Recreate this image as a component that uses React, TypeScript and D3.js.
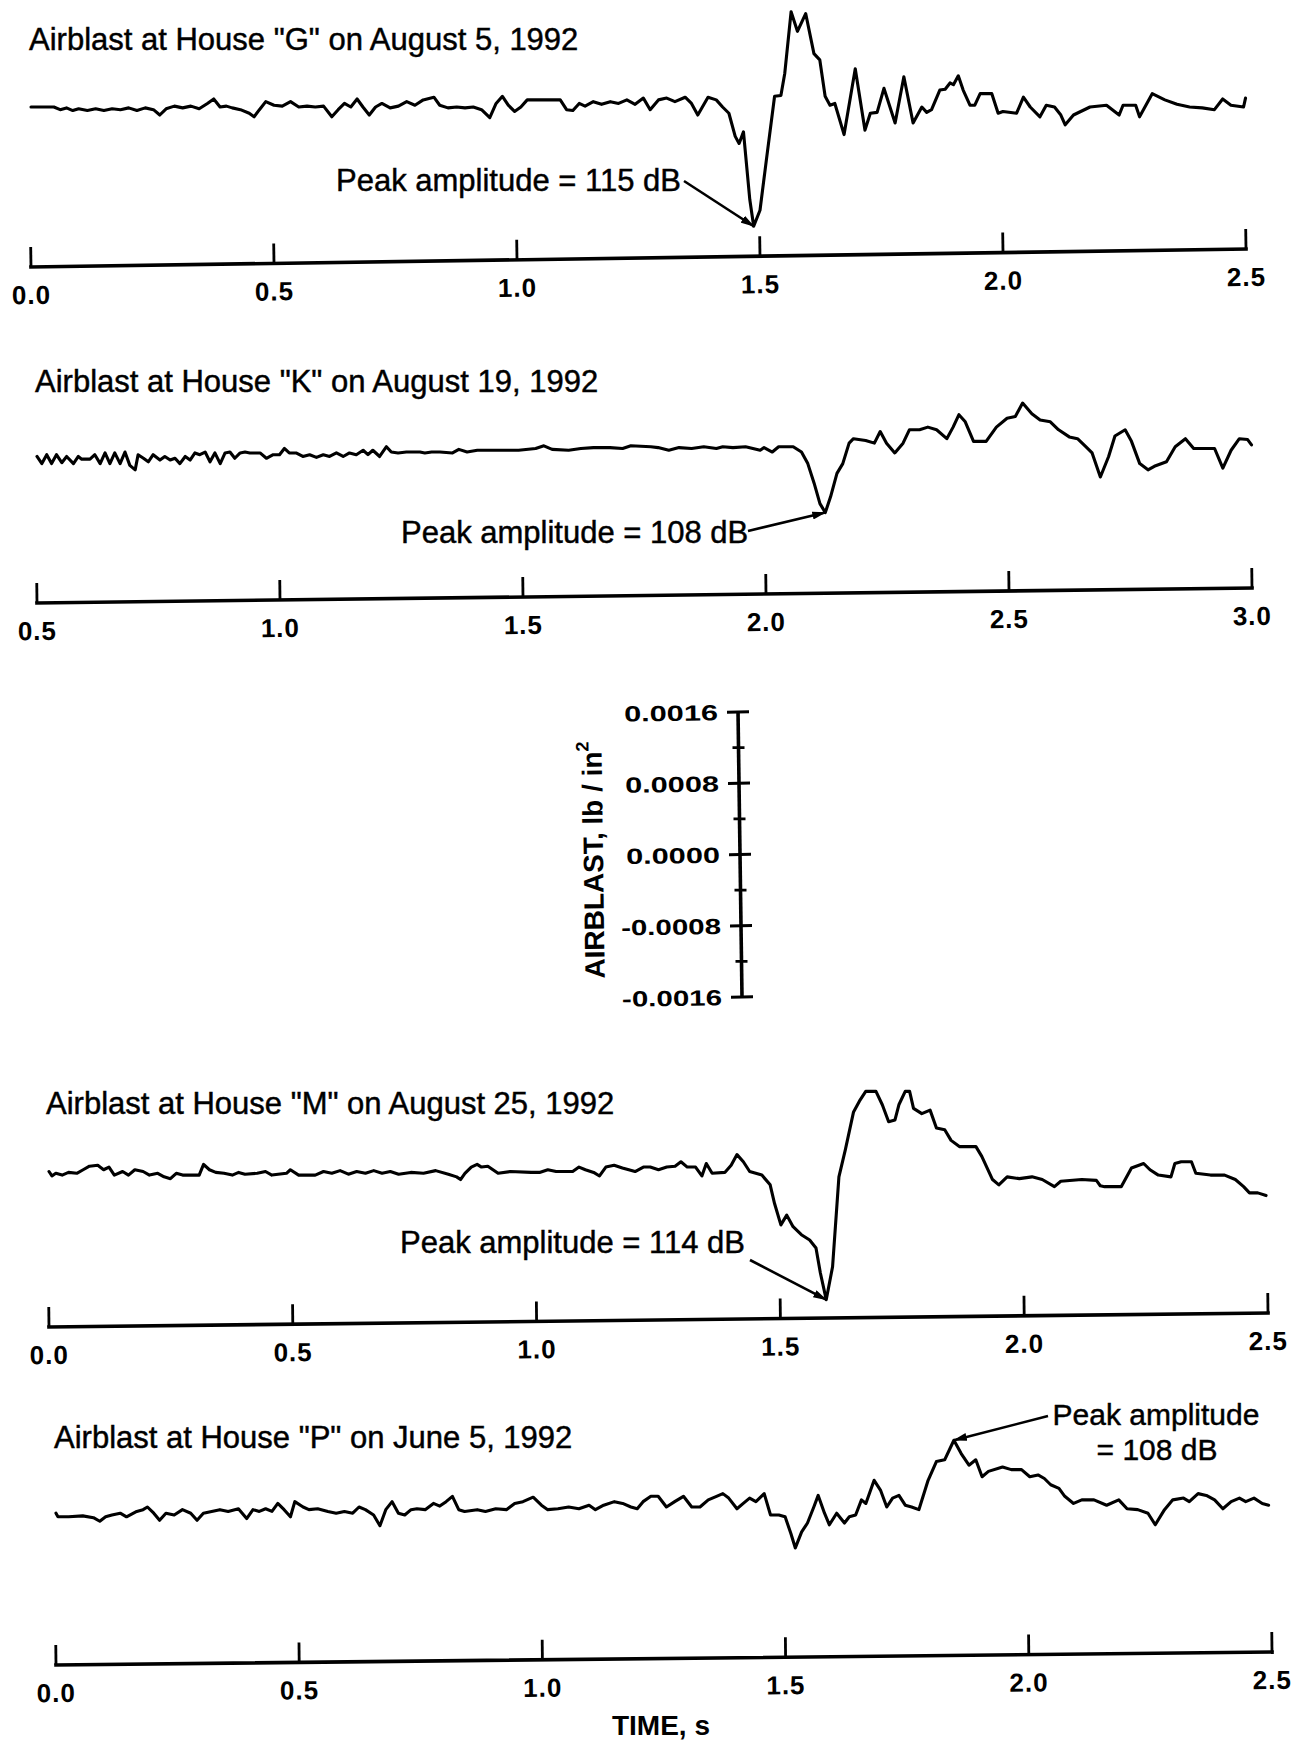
import React from 'react';
import * as d3 from 'd3';

// Airblast records: [time (s), pressure (x1e-4 lb/in²)]
const recordG: [number, number][] = [
  [0.000,0.0],[0.047,0.0],[0.060,-0.3],[0.073,-0.1],[0.086,-0.4],[0.098,-0.2],[0.116,-0.4],[0.133,-0.2],[0.150,-0.4],[0.167,-0.2],
  [0.184,-0.3],[0.201,-0.1],[0.218,-0.4],[0.235,-0.1],[0.252,-0.3],[0.265,-0.9],[0.278,-0.2],[0.295,0.1],[0.312,-0.1],[0.329,0.1],
  [0.346,-0.2],[0.363,0.4],[0.376,0.9],[0.389,0.0],[0.402,0.1],[0.414,-0.1],[0.431,-0.3],[0.449,-0.7],[0.459,-1.1],[0.470,-0.3],
  [0.483,0.6],[0.500,0.2],[0.517,0.1],[0.534,0.6],[0.551,0.0],[0.568,0.1],[0.585,0.0],[0.602,0.1],[0.619,-1.1],[0.632,-0.3],
  [0.645,0.4],[0.658,0.0],[0.671,0.9],[0.683,0.0],[0.696,-0.9],[0.709,0.0],[0.722,0.4],[0.739,-0.1],[0.756,0.1],[0.773,0.6],
  [0.790,0.2],[0.807,0.8],[0.829,1.1],[0.841,0.2],[0.858,-0.1],[0.876,0.0],[0.893,-0.1],[0.910,0.0],[0.927,-0.3],[0.944,-1.2],
  [0.957,0.4],[0.970,1.2],[0.982,0.2],[0.995,-0.5],[1.008,0.0],[1.021,0.8],[1.089,0.8],[1.102,-0.3],[1.115,-0.4],[1.128,0.4],
  [1.140,0.1],[1.157,0.6],[1.174,0.3],[1.192,0.6],[1.209,0.4],[1.226,0.8],[1.243,0.3],[1.260,1.0],[1.274,-0.3],[1.291,0.8],
  [1.308,1.0],[1.325,0.6],[1.346,1.1],[1.359,0.4],[1.372,-0.9],[1.393,1.1],[1.410,0.8],[1.423,0.0],[1.436,-0.7],[1.449,-3.3],
  [1.457,-4.1],[1.466,-2.8],[1.479,-10.4],[1.487,-13.4],[1.500,-11.6],[1.513,-6.0],[1.530,1.2],[1.543,1.3],[1.551,3.8],[1.564,10.7],
  [1.577,8.5],[1.594,10.5],[1.611,6.0],[1.623,5.3],[1.634,1.2],[1.644,0.2],[1.654,0.4],[1.673,-3.1],[1.696,4.3],[1.716,-2.6],
  [1.727,-0.7],[1.741,-0.6],[1.755,2.1],[1.778,-1.8],[1.796,3.4],[1.815,-1.8],[1.833,0.0],[1.843,-0.6],[1.853,-0.3],[1.870,1.9],
  [1.881,2.0],[1.891,2.7],[1.898,2.5],[1.908,3.5],[1.918,1.9],[1.932,0.2],[1.942,0.2],[1.953,1.5],[1.977,1.5],[1.990,-0.7],
  [2.000,-0.5],[2.028,-0.7],[2.042,1.1],[2.056,0.0],[2.076,-1.1],[2.089,0.2],
  [2.106,0.0],[2.119,-0.9],[2.128,-2.0],[2.145,-0.9],[2.179,0.0],[2.213,0.2],[2.239,-0.9],[2.247,0.2],[2.273,0.2],[2.281,-1.1],
  [2.307,1.5],[2.333,0.8],[2.358,0.3],[2.384,0.0],[2.410,-0.1],[2.435,-0.3],[2.452,0.9],[2.469,0.2],[2.495,0.0],[2.499,1.0],
];

const recordK: [number, number][] = [
  [0.500,-1.1],[0.510,-1.9],[0.520,-0.9],[0.530,-1.9],[0.540,-0.9],[0.551,-1.8],[0.561,-1.1],[0.575,-1.9],[0.585,-1.1],[0.592,-1.4],
  [0.609,-1.4],[0.619,-0.9],[0.630,-1.9],[0.640,-0.7],[0.650,-1.9],[0.660,-0.7],[0.671,-1.9],[0.681,-0.6],[0.691,-2.1],[0.702,-2.6],
  [0.708,-0.9],[0.719,-1.3],[0.729,-1.7],[0.739,-0.9],[0.753,-1.5],[0.763,-1.1],[0.774,-1.5],[0.784,-1.3],[0.794,-1.9],[0.805,-1.1],
  [0.815,-1.5],[0.825,-0.7],[0.835,-0.9],[0.846,-0.6],[0.856,-1.7],[0.866,-0.7],[0.877,-1.9],[0.887,-0.7],[0.897,-0.6],[0.907,-1.3],
  [0.918,-0.7],[0.928,-0.6],[0.938,-0.7],[0.959,-0.7],[0.972,-1.3],[0.986,-0.9],[0.999,-0.9],[1.009,-0.2],[1.019,-0.7],[1.033,-0.7],
  [1.047,-1.1],[1.061,-0.9],[1.075,-1.2],[1.089,-0.9],[1.102,-1.1],[1.116,-0.7],[1.130,-1.1],[1.143,-0.7],[1.157,-0.9],[1.171,-0.4],
  [1.181,-0.9],[1.191,-0.4],[1.205,-1.1],[1.219,0.0],[1.229,-0.6],[1.243,-0.7],[1.260,-0.6],[1.288,-0.6],[1.298,-0.7],[1.312,-0.6],
  [1.329,-0.6],[1.355,-0.7],[1.368,-0.3],[1.385,-0.6],[1.406,-0.4],[1.449,-0.4],[1.491,-0.4],[1.526,-0.2],[1.543,0.1],[1.560,-0.3],
  [1.594,-0.4],[1.619,-0.2],[1.645,-0.1],[1.679,-0.1],[1.705,-0.2],[1.722,0.1],[1.763,0.0],[1.778,-0.1],[1.800,-0.4],[1.821,-0.1],
  [1.847,-0.2],[1.872,0.0],[1.898,-0.2],[1.911,0.0],[1.932,-0.1],[1.958,0.0],[1.988,-0.4],[1.996,-0.1],[2.013,-0.6],[2.026,0.0],
  [2.056,0.0],[2.073,-0.6],[2.086,-1.9],[2.099,-4.1],[2.111,-6.4],[2.122,-7.4],[2.133,-5.6],[2.146,-3.0],[2.158,-1.9],[2.171,0.4],
  [2.180,0.9],[2.205,0.7],[2.223,0.4],[2.235,1.7],[2.248,0.4],[2.265,-0.7],[2.282,0.4],[2.295,1.9],[2.316,1.9],[2.333,2.2],
  [2.351,1.9],[2.372,0.9],[2.385,2.2],[2.397,3.6],[2.410,2.8],[2.427,0.6],[2.453,0.6],[2.474,2.2],[2.496,3.2],[2.513,3.4],
  [2.528,4.9],[2.547,3.7],[2.564,3.0],[2.585,2.8],[2.602,1.9],[2.624,1.1],[2.641,0.9],[2.658,0.0],[2.671,-0.7],[2.688,-3.4],
  [2.705,-1.1],[2.718,1.2],[2.739,1.9],[2.752,0.6],[2.769,-1.9],[2.786,-2.6],[2.799,-2.2],[2.824,-1.7],[2.842,0.0],[2.863,0.9],
  [2.880,-0.2],[2.897,-0.2],[2.923,-0.2],[2.940,-2.4],[2.957,-0.4],[2.974,0.9],[2.991,0.8],[2.999,0.2],
];

const recordM: [number, number][] = [
  [0.000,0.2],[0.006,-0.3],[0.014,0.0],[0.027,-0.2],[0.040,0.1],[0.057,0.0],[0.070,0.4],[0.083,0.8],[0.100,0.9],[0.112,0.4],
  [0.123,0.7],[0.134,-0.2],[0.151,0.2],[0.163,-0.2],[0.176,0.4],[0.193,0.2],[0.206,-0.2],[0.223,0.0],[0.236,-0.4],[0.249,-0.6],
  [0.261,0.0],[0.274,-0.2],[0.308,-0.2],[0.317,1.0],[0.329,0.4],[0.342,0.1],[0.359,0.0],[0.376,-0.2],[0.389,0.1],[0.402,-0.1],
  [0.427,0.0],[0.444,0.2],[0.457,-0.2],[0.487,0.0],[0.495,0.4],[0.512,-0.2],[0.546,-0.2],[0.563,0.2],[0.580,0.0],[0.597,0.3],
  [0.614,-0.1],[0.631,0.2],[0.649,0.0],[0.666,0.3],[0.683,0.0],[0.700,0.2],[0.717,-0.1],[0.742,0.1],[0.768,0.0],[0.793,0.3],
  [0.819,-0.1],[0.836,-0.4],[0.844,-0.7],[0.853,0.0],[0.866,0.7],[0.878,1.0],[0.887,0.7],[0.900,0.8],[0.921,0.0],[0.946,0.2],
  [0.989,0.1],[1.006,0.1],[1.023,0.4],[1.040,0.2],[1.074,0.2],[1.087,0.7],[1.100,0.4],[1.117,0.1],[1.129,-0.3],[1.142,0.7],
  [1.159,0.9],[1.176,0.6],[1.202,0.2],[1.219,0.7],[1.233,0.7],[1.250,0.4],[1.267,0.7],[1.284,0.8],[1.296,1.3],[1.309,0.7],
  [1.326,0.7],[1.339,-0.3],[1.348,1.1],[1.360,0.0],[1.386,0.1],[1.399,0.9],[1.411,2.1],[1.424,1.3],[1.437,0.2],[1.462,-0.2],
  [1.479,-1.3],[1.488,-3.4],[1.501,-5.8],[1.513,-4.7],[1.526,-6.0],[1.543,-6.9],[1.560,-7.5],[1.573,-8.4],[1.582,-11.2],[1.594,-14.2],
  [1.607,-10.5],[1.620,-0.4],[1.633,2.6],[1.650,6.9],[1.662,8.1],[1.675,9.2],[1.696,9.2],[1.709,7.7],[1.722,5.8],[1.735,6.0],
  [1.743,7.7],[1.756,9.2],[1.765,9.2],[1.773,7.3],[1.790,6.7],[1.807,7.1],[1.820,5.1],[1.837,4.9],[1.850,3.7],[1.867,3.0],
  [1.901,3.0],[1.913,1.9],[1.935,-0.7],[1.948,-1.3],[1.965,-0.4],[1.990,-0.6],[2.016,-0.4],[2.037,-0.7],[2.062,-1.5],[2.075,-0.9],
  [2.118,-0.7],[2.148,-0.8],[2.156,-1.4],[2.165,-1.5],[2.199,-1.5],[2.220,0.6],[2.245,1.1],[2.258,0.4],[2.275,-0.2],[2.301,-0.4],
  [2.309,1.1],[2.322,1.3],[2.343,1.3],[2.352,0.0],[2.382,-0.2],[2.411,-0.2],[2.433,-0.7],[2.450,-1.5],[2.462,-2.2],[2.479,-2.2],
  [2.496,-2.5],
];

const recordP: [number, number][] = [
  [0.000,0.2],[0.004,-0.2],[0.026,-0.2],[0.055,-0.1],[0.077,-0.3],[0.090,-0.7],[0.102,-0.2],[0.115,0.0],[0.132,0.2],[0.145,-0.2],
  [0.166,0.4],[0.179,0.6],[0.188,0.9],[0.201,0.2],[0.213,-0.6],[0.226,0.2],[0.243,0.0],[0.260,0.6],[0.277,0.2],[0.290,-0.6],
  [0.303,0.2],[0.320,0.4],[0.337,0.6],[0.354,0.4],[0.375,0.7],[0.392,-0.4],[0.405,0.6],[0.418,0.4],[0.431,0.7],[0.444,0.4],
  [0.456,1.3],[0.469,0.6],[0.482,-0.2],[0.491,1.5],[0.508,0.9],[0.520,0.6],[0.538,0.7],[0.559,0.4],[0.576,0.2],[0.593,0.4],
  [0.610,0.2],[0.623,0.9],[0.636,0.6],[0.653,0.0],[0.666,-1.2],[0.678,0.6],[0.691,1.5],[0.704,0.2],[0.717,0.0],[0.730,0.6],
  [0.742,0.7],[0.759,0.6],[0.776,1.3],[0.789,1.0],[0.802,1.5],[0.815,2.1],[0.828,0.6],[0.840,0.4],[0.866,0.6],[0.883,0.4],
  [0.904,0.7],[0.926,0.6],[0.943,1.3],[0.960,1.5],[0.981,2.0],[0.998,1.1],[1.011,0.6],[1.032,0.7],[1.054,0.9],[1.075,0.7],
  [1.096,1.1],[1.109,0.6],[1.126,1.1],[1.148,1.5],[1.165,1.3],[1.182,0.9],[1.195,0.7],[1.207,1.5],[1.223,2.1],[1.238,2.1],
  [1.255,0.9],[1.272,1.5],[1.290,2.1],[1.307,0.9],[1.324,0.9],[1.341,1.7],[1.358,2.1],[1.371,2.4],[1.383,1.9],[1.400,0.7],
  [1.413,1.3],[1.426,1.9],[1.439,1.5],[1.456,2.4],[1.469,0.0],[1.486,0.0],[1.499,-0.2],[1.511,-2.1],[1.520,-3.7],[1.533,-1.9],
  [1.545,-0.9],[1.558,0.9],[1.567,2.2],[1.580,0.2],[1.590,-1.1],[1.605,0.2],[1.621,-0.9],[1.631,-0.2],[1.644,0.0],[1.656,1.7],
  [1.665,1.3],[1.682,3.9],[1.695,2.8],[1.708,0.9],[1.720,1.9],[1.733,2.2],[1.746,1.1],[1.759,0.9],[1.774,0.6],[1.793,3.9],
  [1.810,6.0],[1.827,6.2],[1.846,8.4],[1.861,6.9],[1.877,5.6],[1.891,6.2],[1.904,4.3],[1.917,4.9],[1.946,5.4],[1.964,5.1],
  [1.985,5.1],[2.002,4.3],[2.019,4.5],[2.032,4.1],[2.045,3.4],[2.062,3.0],[2.074,2.1],[2.092,1.3],[2.109,1.7],[2.134,1.7],
  [2.160,1.1],[2.185,1.7],[2.202,0.7],[2.224,0.6],[2.245,0.2],[2.260,-1.1],[2.279,0.6],[2.296,1.7],[2.318,1.9],[2.330,1.5],
  [2.348,2.4],[2.365,2.2],[2.382,1.7],[2.399,0.7],[2.416,1.5],[2.433,1.9],[2.446,1.5],[2.463,1.9],[2.480,1.3],[2.493,1.1],
];

const titles = [
  'Airblast at House "G" on August 5, 1992',
  'Airblast at House "K" on August 19, 1992',
  'Airblast at House "M" on August 25, 1992',
  'Airblast at House "P" on June 5, 1992',
];
const peakLabels = ['Peak amplitude = 115 dB', 'Peak amplitude = 108 dB', 'Peak amplitude = 114 dB', 'Peak amplitude', '= 108 dB'];

const ticksG = [0, 0.5, 1.0, 1.5, 2.0, 2.5];
const ticksK = [0.5, 1.0, 1.5, 2.0, 2.5, 3.0];
const ticksM = [0, 0.5, 1.0, 1.5, 2.0, 2.5];
const ticksP = [0, 0.5, 1.0, 1.5, 2.0, 2.5];

// scale bar (x1e-4 lb/in²)
const scaleMajor = [16, 8, 0, -8, -16];
const scaleMinor = [12, 4, -4, -12];

const FONT = '"Liberation Sans", Arial, Helvetica, sans-serif';
const UNIT = 8.9; // px per 1e-4 lb/in²
const INK = { stroke: '#000', strokeWidth: 0.45 };

type Cfg = {
  data: [number, number][];
  ticks: number[];
  title: string;
  domain: [number, number];
  x0: number; x1: number; zero: number;
  titleX: number; titleY: number;
  axisY0: number; axisY1: number;
  peak: 'min' | 'max';
  label: React.ReactNode;
  leaderFrom: [number, number];
};

function Panel({ c }: { c: Cfg }) {
  const x = d3.scaleLinear().domain(c.domain).range([c.x0, c.x1]);
  const y = d3.scaleLinear().domain([-16, 16]).range([c.zero + 16 * UNIT, c.zero - 16 * UNIT]);
  const line = d3.line<[number, number]>().x(d => x(d[0])).y(d => y(d[1])).curve(d3.curveLinear);
  const dx = c.x1 - c.x0;
  const dy = c.axisY1 - c.axisY0;
  const len = Math.hypot(dx, dy);
  const ang = (Math.atan2(dy, dx) * 180) / Math.PI;
  const ax = d3.scaleLinear().domain(c.domain).range([0, len]);
  const idx = c.peak === 'min' ? d3.minIndex(c.data, d => d[1]) : d3.maxIndex(c.data, d => d[1]);
  const pk = c.data[idx];
  return (
    <g>
      <text x={c.titleX} y={c.titleY} fontSize={31} {...INK}>{c.title}</text>
      <path d={line(c.data) || ''} fill="none" stroke="#000" strokeWidth={3.1} strokeLinejoin="round" strokeLinecap="round" />
      {c.label}
      <line x1={c.leaderFrom[0]} y1={c.leaderFrom[1]} x2={x(pk[0])} y2={y(pk[1])} stroke="#000" strokeWidth={2.6} markerEnd="url(#arrow)" />
      <g transform={`translate(${c.x0},${c.axisY0}) rotate(${ang})`}>
        <line x1={0} x2={len} y1={0} y2={0} stroke="#000" strokeWidth={3.6} strokeLinecap="square" />
        {c.ticks.map(t => (
          <g key={t} transform={`translate(${ax(t)},0)`}>
            <line y1={0} y2={-20} stroke="#000" strokeWidth={2.8} />
            <text y={37} textAnchor="middle" fontSize={26} fontWeight="bold" letterSpacing={1}>{t.toFixed(1)}</text>
          </g>
        ))}
      </g>
    </g>
  );
}

function ScaleBar() {
  const s = d3.scaleLinear().domain([-16, 16]).range([997, 712]);
  const X = 740;
  return (
    <g transform={`rotate(-0.8, ${X}, 854)`}>
      <line x1={X} x2={X} y1={s(16)} y2={s(-16)} stroke="#000" strokeWidth={3.6} />
      {scaleMajor.map(v => (
        <g key={v}>
          <line x1={X - 11} x2={X + 11} y1={s(v)} y2={s(v)} stroke="#000" strokeWidth={3} />
          <text x={720} y={s(v) + 8} textAnchor="end" fontSize={22} fontWeight="bold"
            textLength={v < 0 ? 100 : 94} lengthAdjust="spacingAndGlyphs">
            {(v * 1e-4).toFixed(4)}
          </text>
        </g>
      ))}
      {scaleMinor.map(v => (
        <line key={v} x1={X - 6} x2={X + 6} y1={s(v)} y2={s(v)} stroke="#000" strokeWidth={2.8} />
      ))}
      <text transform="translate(603,858) rotate(-90)" textAnchor="middle" fontSize={28} fontWeight="bold">
        AIRBLAST, lb / in<tspan dy={-13} fontSize={18}>2</tspan>
      </text>
    </g>
  );
}

export default function App() {
  const panels: Cfg[] = [
    {
      data: recordG, ticks: ticksG, title: titles[0], domain: [0, 2.5],
      x0: 31, x1: 1246, zero: 107, titleX: 29, titleY: 50, axisY0: 267, axisY1: 249, peak: 'min',
      label: <text x={336} y={191} fontSize={31} {...INK}>{peakLabels[0]}</text>, leaderFrom: [684, 181],
    },
    {
      data: recordK, ticks: ticksK, title: titles[1], domain: [0.5, 3.0],
      x0: 37, x1: 1252, zero: 446.7, titleX: 35, titleY: 392, axisY0: 603, axisY1: 588, peak: 'min',
      label: <text x={401} y={543} fontSize={31} {...INK}>{peakLabels[1]}</text>, leaderFrom: [748, 531],
    },
    {
      data: recordM, ticks: ticksM, title: titles[2], domain: [0, 2.5],
      x0: 49, x1: 1268, zero: 1173.3, titleX: 46, titleY: 1114, axisY0: 1327, axisY1: 1313, peak: 'min',
      label: <text x={400} y={1253} fontSize={31} {...INK}>{peakLabels[2]}</text>, leaderFrom: [750, 1260],
    },
    {
      data: recordP, ticks: ticksP, title: titles[3], domain: [0, 2.5],
      x0: 56, x1: 1272, zero: 1515, titleX: 54, titleY: 1448, axisY0: 1665, axisY1: 1652, peak: 'max',
      label: (
        <g fontSize={30} textAnchor="middle" {...INK}>
          <text x={1156} y={1425}>{peakLabels[3]}</text>
          <text x={1157} y={1460}>{peakLabels[4]}</text>
        </g>
      ),
      leaderFrom: [1048, 1416],
    },
  ];
  return (
    <svg width={1299} height={1749} style={{ position: 'absolute', left: 0, top: 0 }} fontFamily={FONT}>
      <defs>
        <marker id="arrow" viewBox="0 0 14 8" refX={13} refY={4} markerWidth={14} markerHeight={8}
          markerUnits="userSpaceOnUse" orient="auto">
          <path d="M0,0L14,4L0,8z" fill="#000" />
        </marker>
      </defs>
      <rect width={1299} height={1749} fill="#fff" />
      {panels.map((c, i) => <Panel key={i} c={c} />)}
      <ScaleBar />
      <text x={661} y={1735} textAnchor="middle" fontSize={28} fontWeight="bold">TIME, s</text>
    </svg>
  );
}
